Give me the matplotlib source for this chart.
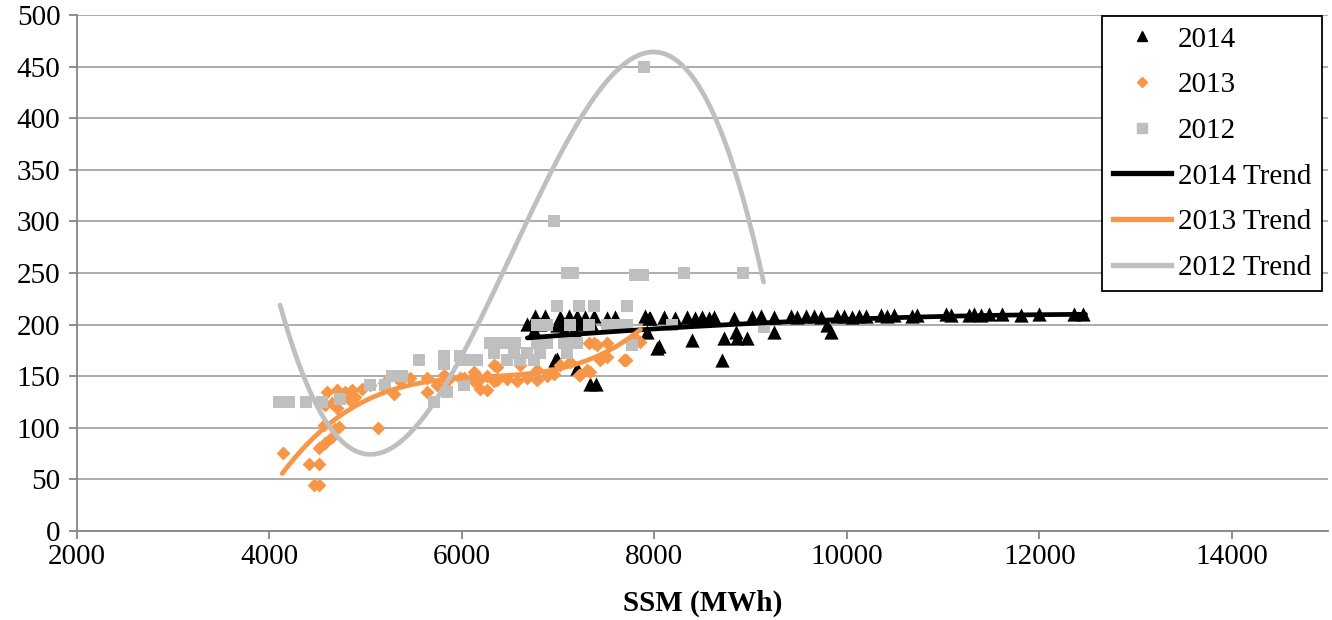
import numpy as np
import matplotlib
matplotlib.use('Agg')
import matplotlib.pyplot as plt
from matplotlib.lines import Line2D

plt.rcParams['font.family'] = ['Liberation Serif', 'DejaVu Serif']
plt.rcParams['font.size'] = 21

# scatter data (SSM in MWh, y value)
x_2014 = [6763, 6867, 7023, 7110, 7197, 7283, 7370, 7509, 7595, 7907, 7959,
          6677, 6816, 6989, 7058, 7214, 7353, 6746, 7058, 7162,
          6989, 7197, 7330, 7390, 8029, 6971,
          7941, 8097, 8219, 8340, 8427, 8496, 8566, 8618, 8826, 9017, 9104,
          9242, 9416, 9486, 9572, 9659, 9728, 9901, 9971, 10057, 10126,
          7925, 8046, 8393, 8722, 8861, 8965, 8843, 8704, 9242, 9832, 9797,
          10195, 10351, 10421, 10490, 10681, 10733, 11027, 11079, 11270,
          11322, 11391, 11478, 11617, 11808, 11998, 12362, 12449]
y_2014 = [208, 208, 207, 208, 208, 207, 208, 206, 207, 208, 206,
          201, 201, 200, 201, 201, 200, 195, 195, 195,
          167, 158, 142, 142, 177, 166,
          206, 207, 206, 207, 206, 207, 206, 207, 206, 207, 208,
          207, 208, 207, 208, 208, 207, 208, 208, 207, 208,
          193, 179, 185, 187, 187, 187, 193, 166, 193, 193, 200,
          208, 209, 208, 209, 208, 209, 210, 209, 209,
          210, 209, 210, 210, 209, 210, 210, 210]

x_2013 = [4139, 4458, 4510, 4416, 4510, 4510, 4579, 4649, 4683, 4718, 4562,
          4597, 4701, 4787, 4857, 4579, 4649, 4701, 4839, 4891, 4961, 5123,
          5047, 5186, 5290, 5359, 5463, 5637, 5741, 5810, 5637, 5845, 5983,
          6157, 6261, 6330, 6122, 6330,
          6017, 6122, 6191, 6261, 6365, 6469, 6573, 6677, 6781, 6885, 6954,
          6191, 6365, 6607, 6781, 7023, 7127, 7214, 7301, 7318, 7405, 7440,
          7509, 7509, 7682, 7855, 7786, 7231, 7335, 7700, 7370]
y_2013 = [76, 45, 45, 65, 65, 80, 85, 91, 99, 101, 103,
          135, 137, 135, 137, 122, 124, 119, 127, 130, 138, 100,
          141, 143, 133, 145, 148, 148, 141, 151, 135, 145, 148,
          145, 137, 145, 154, 161,
          148, 145, 147, 150, 146, 147, 145, 148, 146, 150, 152,
          138, 159, 161, 156, 161, 164, 151, 156, 182, 180, 166,
          169, 182, 166, 183, 188, 151, 154, 166, 182]

x_2012 = [4100, 4150, 4200, 4382, 4545, 4735, 5047, 5203, 5273, 5377, 5550,
          5810, 5810, 5983, 6017, 5706, 5845, 6017,
          6989, 7214, 7370, 7717,
          6781, 6885, 7127, 7318, 7509, 7613, 7717,
          6295, 6399, 6503, 6555, 6781, 6885, 7058, 7127, 7197,
          6330, 6538, 6677, 6816, 7093,
          6053, 6157, 6469, 6607, 6746, 7768,
          6954, 7090, 7150, 7800, 7880, 8306, 8923, 7887, 8184, 9137]
y_2012 = [125, 125, 125, 125, 125, 128, 141, 141, 150, 150, 166,
          170, 162, 170, 166, 125, 135, 141,
          218, 218, 218, 218,
          200, 200, 200, 200, 200, 200, 200,
          182, 182, 182, 182, 182, 182, 182, 182, 182,
          172, 172, 172, 172, 172,
          166, 166, 166, 166, 166, 180,
          300, 250, 250, 248, 248, 250, 250, 450, 200, 198]

# points
trend_2014_x = [6680, 8000, 10000, 12480]
trend_2014_y = [187, 196, 205, 210]
trend_2013_x = [4132, 4597, 5290, 5845, 6677, 7370, 7855]
trend_2013_y = [56, 101, 138, 146, 154, 166, 196]
trend_2012_x = [4110, 5050, 5850, 7000, 8000, 9135]
trend_2012_y = [219, 74, 146, 360, 465, 241]

orange = '#F79646'
grey = '#BFBFBF'
axis_grey = '#868686'


def trend(xs, ys, order):
    coef = np.polyfit(xs, ys, order)
    xx = np.linspace(xs[0], xs[-1], 200)
    return xx, np.polyval(coef, xx)


fig = plt.figure(figsize=(13.32, 6.2), dpi=100)
ax = fig.add_axes([77 / 1332, 1 - 531 / 620, 1251 / 1332, 516 / 620])

ax.scatter(x_2014, y_2014, marker='^', s=105, color='black', linewidths=0, zorder=3)
ax.scatter(x_2013, y_2013, marker='D', s=50, color=orange, linewidths=0, zorder=3)
ax.scatter(x_2012, y_2012, marker='s', s=70, color=grey, linewidths=0, zorder=3)

for xs, ys, order, col in [(trend_2014_x, trend_2014_y, 2, 'black'),
                           (trend_2013_x, trend_2013_y, 3, orange),
                           (trend_2012_x, trend_2012_y, 3, grey)]:
    tx, ty = trend(xs, ys, order)
    ax.plot(tx, ty, color=col, lw=3.4, solid_capstyle='round', zorder=4)

ax.set_xlim(2000, 15000)
ax.set_ylim(0, 500)
ax.set_xticks(range(2000, 15000, 2000))
ax.set_yticks(range(0, 501, 50))
ax.yaxis.grid(True, color='#A6A6A6', lw=1.3)
ax.set_axisbelow(True)
for side in ['top', 'right']:
    ax.spines[side].set_visible(False)
for side in ['left', 'bottom']:
    ax.spines[side].set_color(axis_grey)
    ax.spines[side].set_linewidth(1.3)
ax.tick_params(axis='both', direction='out', length=6, width=1.3, color=axis_grey, labelsize=21)
ax.tick_params(axis='y', pad=6)
ax.set_xlabel('SSM (MWh)', fontweight='bold', fontsize=21, labelpad=14)

handles = [
    Line2D([], [], ls='none', marker='^', ms=7, color='black'),
    Line2D([], [], ls='none', marker='D', ms=5, color=orange),
    Line2D([], [], ls='none', marker='s', ms=6.5, color=grey),
    Line2D([], [], color='black', lw=3.8),
    Line2D([], [], color=orange, lw=3.8),
    Line2D([], [], color=grey, lw=3.8),
]
labels = ['2014', '2013', '2012', '2014 Trend', '2013 Trend', '2012 Trend']
leg = ax.legend(handles, labels, loc='upper right', bbox_to_anchor=(0.995, 0.998),
                borderaxespad=0, fancybox=False, framealpha=1, edgecolor='black',
                handlelength=2.0, handletextpad=0.25, labelspacing=0.66,
                borderpad=0.35, fontsize=21)
leg.get_frame().set_linewidth(1.3)

fig.savefig('out.png', dpi=100)
